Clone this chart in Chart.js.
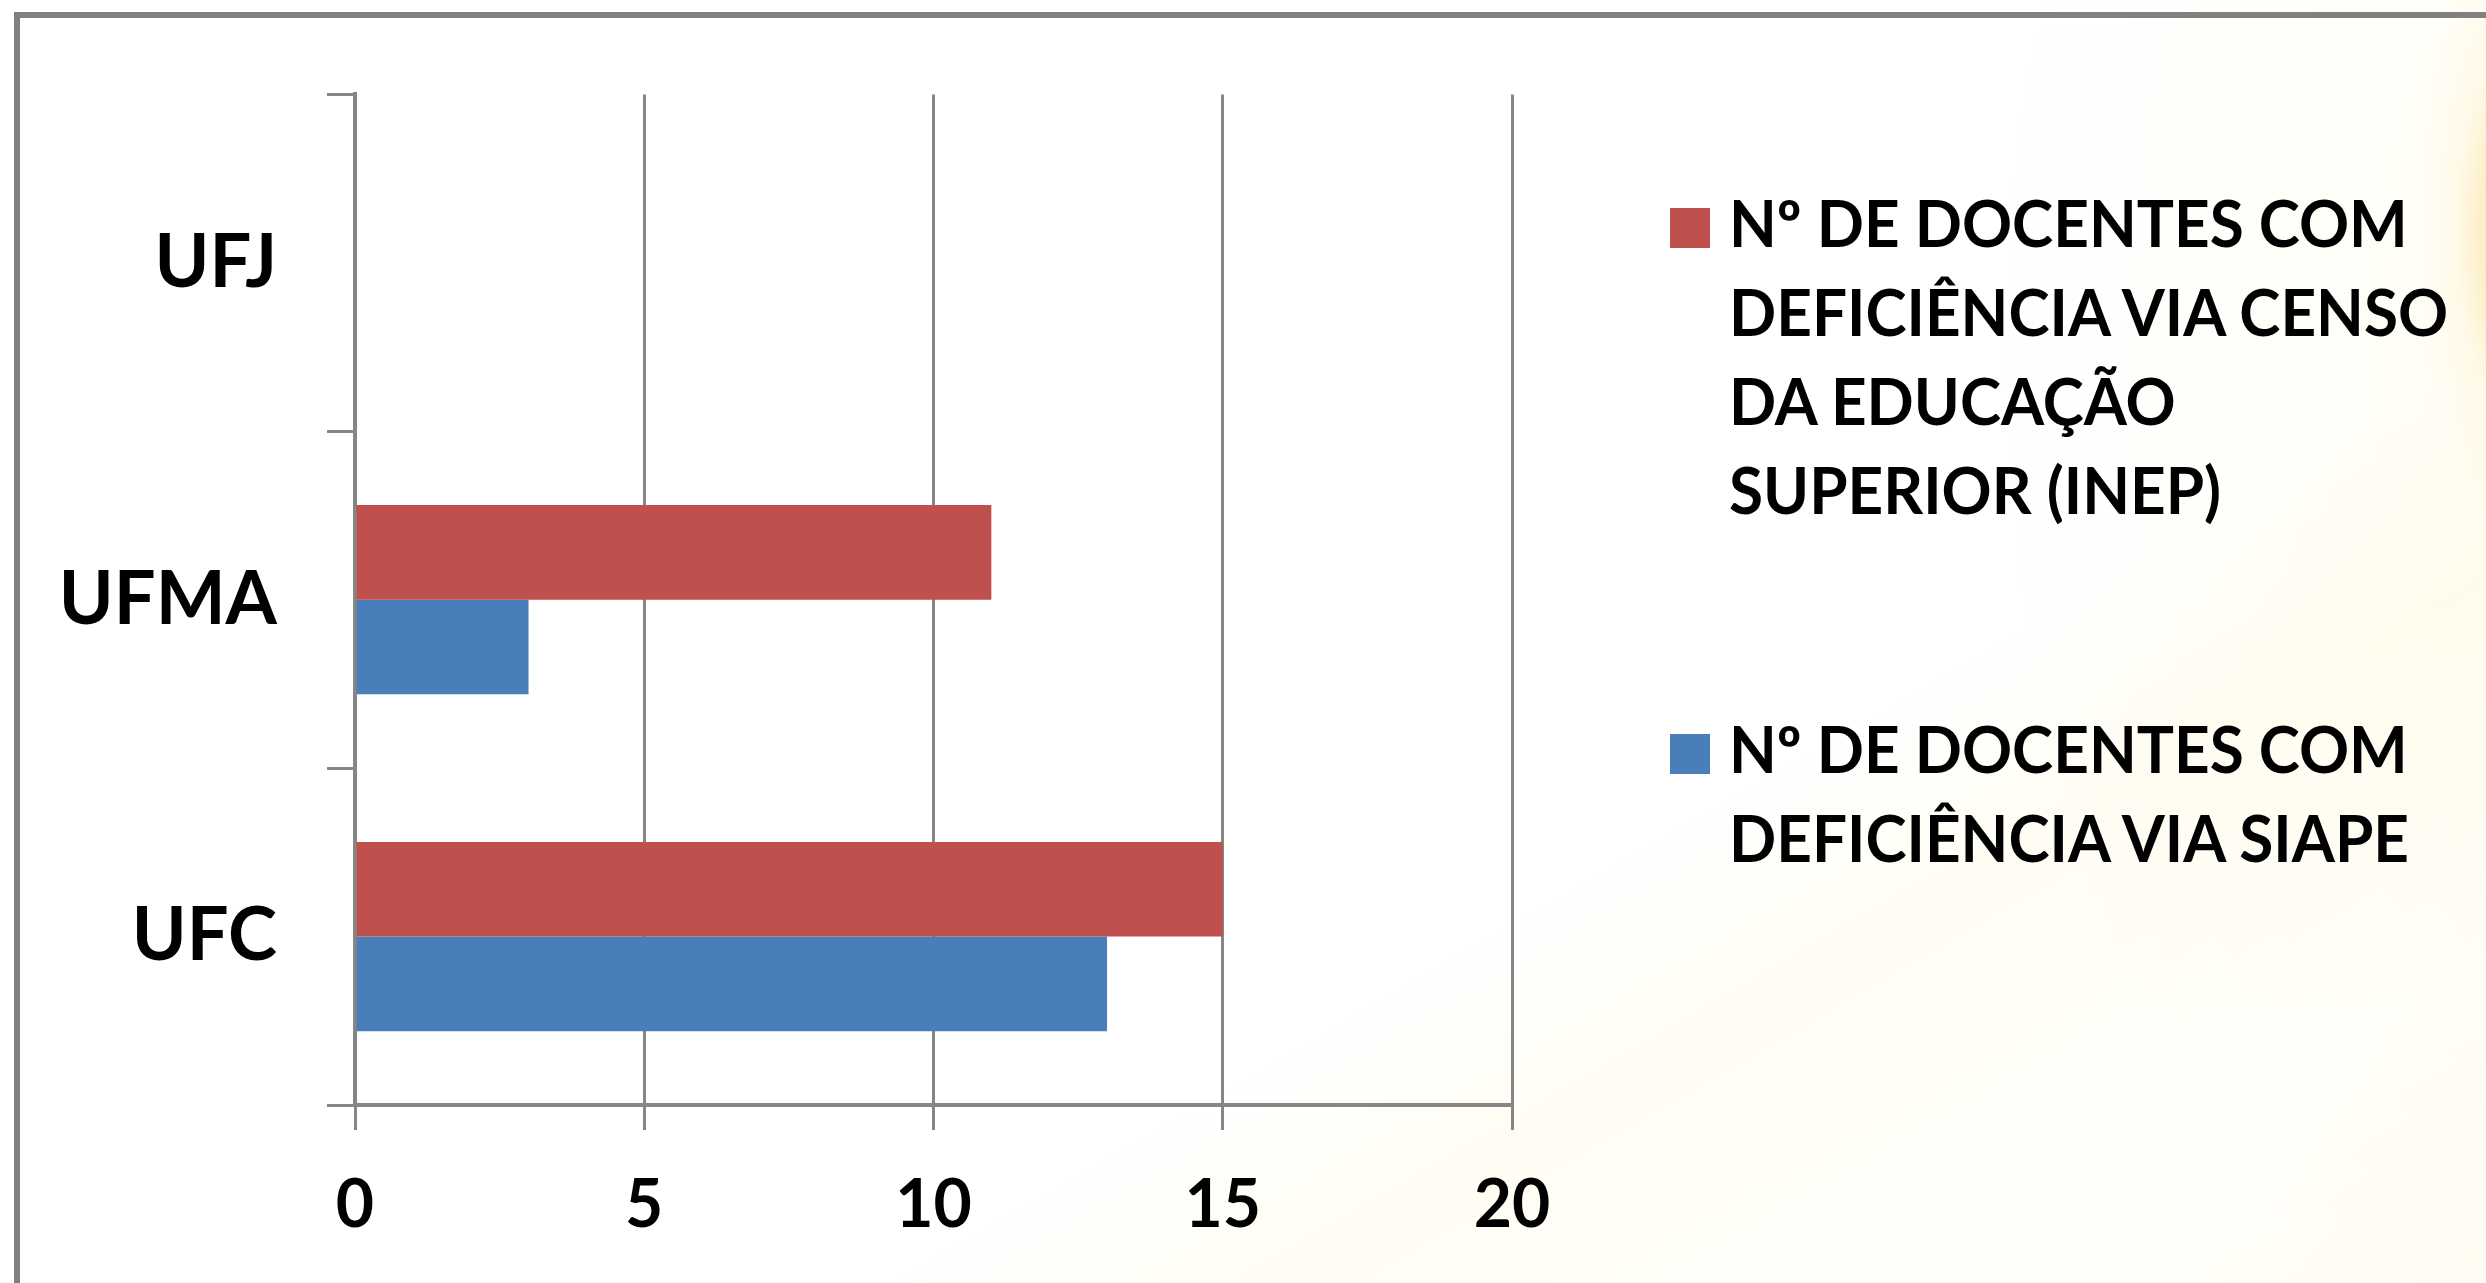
<!DOCTYPE html>
<html>
<head>
<meta charset="utf-8">
<script src="https://cdn.jsdelivr.net/npm/chart.js@4/dist/chart.umd.min.js"></script>
<style>
  html, body { margin: 0; padding: 0; }
  body {
    width: 2486px; height: 1283px; overflow: hidden; position: relative;
    background:
      radial-gradient(ellipse 90px 300px at 2510px 230px, rgba(248,200,95,0.5), rgba(255,228,150,0.15) 60%, rgba(255,255,255,0) 100%),
      linear-gradient(150deg, rgba(255,255,255,0) 66%, rgba(255,248,215,0.3) 74%, rgba(255,251,232,0.2) 88%, rgba(255,246,215,0.3) 100%),
      radial-gradient(ellipse 700px 1100px at 2700px 350px, rgba(255,249,222,0.45), rgba(255,255,255,0) 100%),
      #ffffff;
  }
  #frame {
    position: absolute; left: 14px; top: 12px; right: -20px; bottom: -20px;
    border-left: 6px solid #808080; border-top: 6px solid #808080;
  }
  #chart { position: absolute; left: 0; top: 0; }
  #legend { position: absolute; left: 0; top: 0; font-family: Lato, "Liberation Sans", sans-serif; font-weight: bold; }
  .item { position: absolute; left: 1670px; }
  .swatch { position: absolute; left: 0; top: 30px; width: 40px; height: 40px; }
  .text {
    position: absolute; left: 59px; top: 0; white-space: nowrap; font-size: 65px; line-height: 89px; color: #000;
    transform: scaleX(0.955); transform-origin: 0 0;
  }
</style>
</head>
<body>
<div id="frame"></div>
<canvas id="chart" width="2486" height="1283"></canvas>
<div id="legend"></div>
<script>
// top to bottom, as in the picture
const categories = ["UFJ", "UFMA", "UFC"];
// legend names, split into the lines shown in the original
const seriesNames = [
  ["Nº DE DOCENTES COM", "DEFICIÊNCIA VIA CENSO", "DA EDUCAÇÃO", "SUPERIOR (INEP)"],
  ["Nº DE DOCENTES COM", "DEFICIÊNCIA VIA SIAPE"]
];
const inepValues = [null, 11, 15];
const siapeValues = [null, 3, 13];
const seriesColors = ["#C0504D", "#4A7EBB"];
const xTicks = [0, 5, 10, 15, 20];

const gridGray = "#868686";

const chart = new Chart(document.getElementById("chart"), {
  type: "bar",
  data: {
    labels: categories,
    datasets: [
      { label: seriesNames[0].join(" "), data: inepValues, backgroundColor: seriesColors[0], borderWidth: 0 },
      { label: seriesNames[1].join(" "), data: siapeValues, backgroundColor: seriesColors[1], borderWidth: 0 }
    ]
  },
  options: {
    indexAxis: "y",
    responsive: false,
    devicePixelRatio: 1,
    animation: false,
    categoryPercentage: 0.562,
    barPercentage: 1,
    layout: { padding: { left: 0, top: 90, right: 974, bottom: 0 } },
    plugins: { legend: { display: false }, tooltip: { enabled: false } },
    scales: {
      x: {
        min: xTicks[0],
        max: xTicks[xTicks.length - 1],
        afterBuildTicks: (scale) => { scale.ticks = xTicks.map(v => ({ value: v })); },
        afterFit: (scale) => { scale.height = 178; },
        grid: { color: gridGray, lineWidth: 3, tickLength: 25 },
        border: { color: gridGray, width: 4 },
        ticks: { color: "#000", padding: 36, font: { family: "Lato", weight: "bold", size: 66 } }
      },
      y: {
        afterFit: (scale) => { scale.width = 355; },
        grid: { drawOnChartArea: false, color: gridGray, lineWidth: 3, tickLength: 28 },
        border: { color: gridGray, width: 4 },
        ticks: { color: "#000", padding: 50, font: { family: "Lato", weight: "bold", size: 74 } }
      }
    }
  }
});

// legend drawn as html so the long names break like the original
const legendTops = [178, 704];
const legend = document.getElementById("legend");
chart.data.datasets.forEach((ds, i) => {
  const item = document.createElement("div");
  item.className = "item";
  item.style.top = legendTops[i] + "px";
  const sw = document.createElement("div");
  sw.className = "swatch";
  sw.style.background = ds.backgroundColor;
  const tx = document.createElement("div");
  tx.className = "text";
  seriesNames[i].forEach((line, j) => {
    if (j) tx.appendChild(document.createElement("br"));
    tx.appendChild(document.createTextNode(line));
  });
  item.appendChild(sw);
  item.appendChild(tx);
  legend.appendChild(item);
});
</script>
</body>
</html>
